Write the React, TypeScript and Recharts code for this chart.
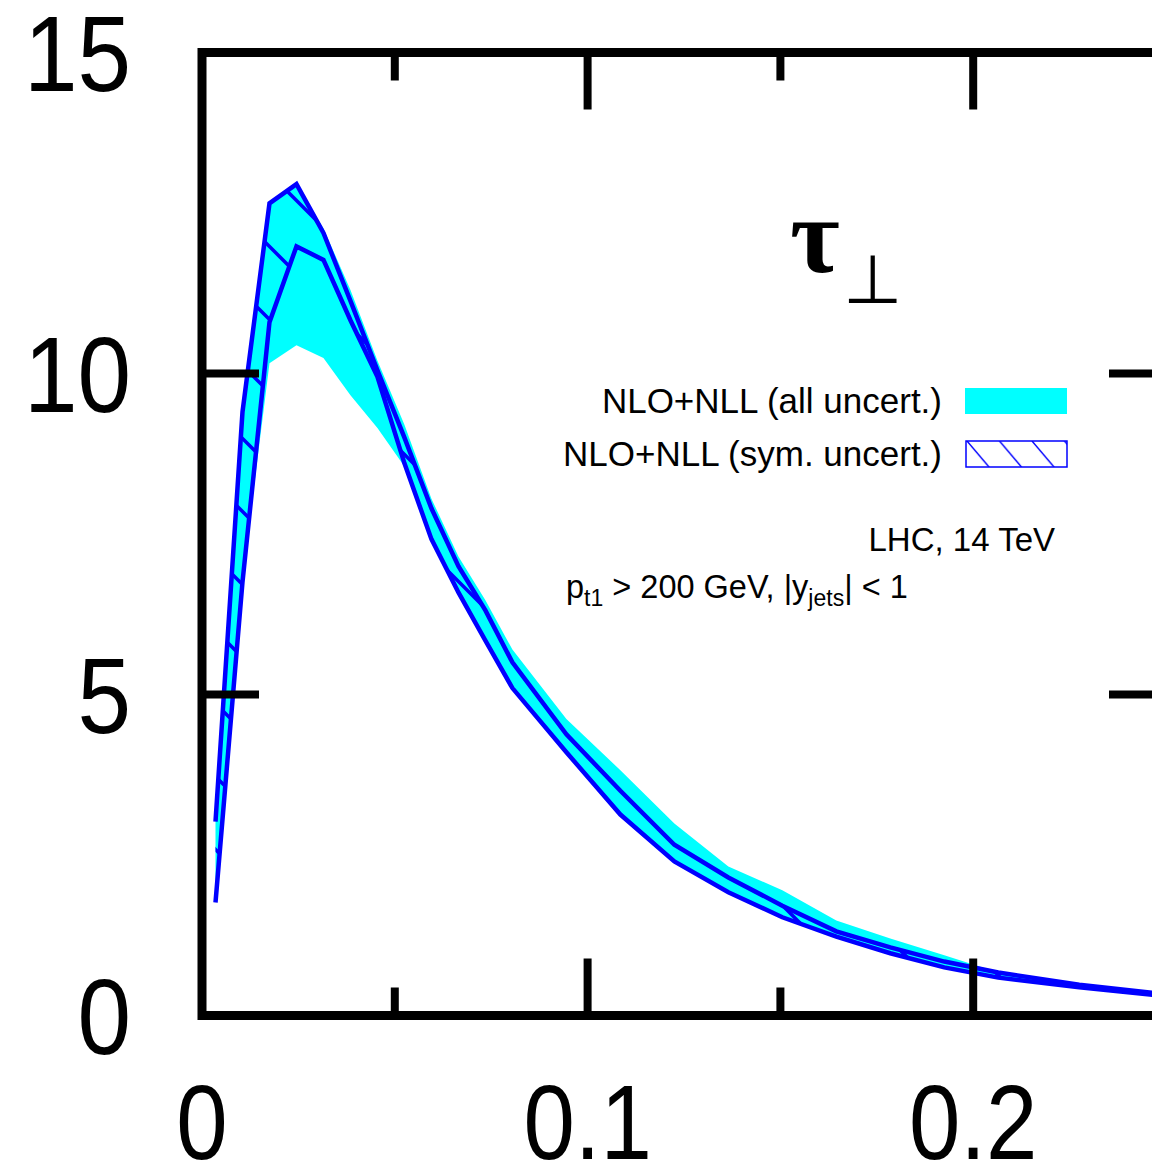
import React from "react";
import { ComposedChart, Area, Line, XAxis, YAxis, ReferenceArea } from "recharts";

// bin centres of tau_perp
const xs = [
  0.0035, 0.0105, 0.0175, 0.0245, 0.0315, 0.0385, 0.0455, 0.0525, 0.0595, 0.0665, 0.0735, 0.0805,
  0.0945, 0.1085, 0.1225, 0.1365, 0.1505, 0.1645, 0.1785, 0.1925, 0.2065, 0.2275, 0.2485,
];
// NLO+NLL (sym. uncert.) band edges
const symHi = [
  3.02, 9.4, 12.65, 12.95, 12.19, 11.13, 10.05, 9.0, 7.9, 7.0, 6.31, 5.5,
  4.38, 3.5, 2.66, 2.15, 1.71, 1.31, 1.06, 0.84, 0.67, 0.48, 0.34,
];
const symLo = [
  1.76, 6.75, 10.8, 11.98, 11.77, 10.83, 9.95, 8.6, 7.42, 6.59, 5.84, 5.1,
  4.1, 3.13, 2.4, 1.92, 1.53, 1.23, 0.97, 0.75, 0.59, 0.44, 0.31,
];
// NLO+NLL (all uncert.) band edges
const allHi = [
  3.0, 9.4, 12.65, 12.95, 12.26, 11.3, 10.2, 9.2, 8.05, 7.15, 6.47, 5.7,
  4.62, 3.82, 2.99, 2.32, 1.95, 1.48, 1.2, 0.94, 0.67, 0.48, 0.34,
];
const allLo = [
  1.8, 6.8, 10.16, 10.44, 10.24, 9.66, 9.15, 8.55, 7.42, 6.59, 5.84, 5.1,
  4.1, 3.13, 2.4, 1.92, 1.53, 1.23, 0.97, 0.75, 0.59, 0.44, 0.31,
];
const xTicks = [0, 0.05, 0.1, 0.15, 0.2, 0.25];
const yTicks = [0, 5, 10, 15];

const data = xs.map((x, i) => ({
  x,
  all: [allLo[i], allHi[i]],
  sym: [symLo[i], symHi[i]],
  hi: symHi[i],
  lo: symLo[i],
}));

const W = 1200;
const H = 1165;
const PLOT_LEFT = 202;
const PLOT_TOP = 52.5;
const PLOT_RIGHT = 1166;
const PLOT_BOTTOM = 1015.5;
const BLUE = "#0000ff";
const CYAN = "#00ffff";
const FONT = "'Liberation Sans', Arial, Helvetica, sans-serif";

const fmtX = (v: number) => (v === 0 ? "0" : String(Math.round(v * 10) / 10));

function XTick(props: any) {
  const { x, payload } = props;
  const v = payload.value as number;
  const major = Math.abs(v * 10 - Math.round(v * 10)) < 1e-6;
  const len = major ? 57 : 28;
  return (
    <g>
      <line x1={x} x2={x} y1={PLOT_BOTTOM} y2={PLOT_BOTTOM - len} stroke="#000" strokeWidth={8} />
      <line x1={x} x2={x} y1={PLOT_TOP} y2={PLOT_TOP + len} stroke="#000" strokeWidth={8} />
      {major && (
        <text
          transform={`translate(${x},${PLOT_BOTTOM + 143}) scale(0.88,1)`}
          textAnchor="middle"
          fontSize={105}
          fontFamily={FONT}
          fill="#000"
        >
          {fmtX(v)}
        </text>
      )}
    </g>
  );
}

function YTick(props: any) {
  const { y, payload } = props;
  return (
    <g>
      <line x1={PLOT_LEFT} x2={PLOT_LEFT + 57} y1={y} y2={y} stroke="#000" strokeWidth={8} />
      <line x1={PLOT_RIGHT - 57} x2={PLOT_RIGHT} y1={y} y2={y} stroke="#000" strokeWidth={8} />
      <text
        transform={`translate(131,${y + 38}) scale(0.9,1)`}
        textAnchor="end"
        fontSize={107}
        fontFamily={FONT}
        fill="#000"
      >
        {payload.value}
      </text>
    </g>
  );
}

function Overlay() {
  return (
    <svg
      width={1152}
      height={H}
      style={{ position: "absolute", left: 0, top: 0, pointerEvents: "none" }}
    >
      <defs>
        <pattern id="hatch" patternUnits="userSpaceOnUse" width={73} height={73} x={0} y={0}>
          <path d="M-10,40 L33,83 M13,-10 L83,60" stroke={BLUE} strokeWidth={3.5} fill="none" />
        </pattern>
        <pattern id="legHatch" patternUnits="userSpaceOnUse" width={32.5} height={26} x={966} y={441}>
          <path d="M1,0 L23,26" stroke={BLUE} strokeWidth={1.4} fill="none" />
        </pattern>
      </defs>
      <text x={790} y={272} fontSize={108} fontWeight="bold" fontFamily="'Liberation Serif', 'DejaVu Serif', serif">
        τ
      </text>
      <text x={843} y={303} fontSize={68} fontFamily="'DejaVu Sans', sans-serif">
        ⊥
      </text>

      <text x={942} y={413} fontSize={35} fontFamily={FONT} textAnchor="end">
        NLO+NLL (all uncert.)
      </text>
      <rect x={965} y={388} width={102} height={26} fill={CYAN} />
      <text x={942} y={466} fontSize={35} fontFamily={FONT} textAnchor="end">
        NLO+NLL (sym. uncert.)
      </text>
      <rect x={966} y={441} width={101} height={26} fill="url(#legHatch)" stroke={BLUE} strokeWidth={1.5} />

      <text x={1055} y={551} fontSize={33} fontFamily={FONT} textAnchor="end">
        LHC, 14 TeV
      </text>
      <text x={566} y={598} fontSize={32.5} fontFamily={FONT}>
        <tspan>p</tspan>
        <tspan dy={8} fontSize={23}>t1</tspan>
        <tspan dy={-8}> &gt; 200 GeV, |y</tspan>
        <tspan dy={8} fontSize={23}>jets</tspan>
        <tspan dy={-8}>| &lt; 1</tspan>
      </text>
    </svg>
  );
}

export default function App() {
  return (
    <div
      style={{
        position: "absolute",
        left: 0,
        top: 0,
        width: 1152,
        height: H,
        overflow: "hidden",
        background: "#fff",
      }}
    >
      <ComposedChart
        width={W}
        height={H}
        data={data}
        margin={{ top: PLOT_TOP, right: W - PLOT_RIGHT, bottom: 0, left: 0 }}
      >
        <XAxis
          dataKey="x"
          type="number"
          domain={[0, 0.25]}
          ticks={xTicks}
          interval={0}
          tick={(p: any) => <XTick {...p} />}
          tickLine={false}
          axisLine={false}
          height={H - PLOT_BOTTOM}
        />
        <YAxis
          type="number"
          domain={[0, 15]}
          ticks={yTicks}
          interval={0}
          tick={(p: any) => <YTick {...p} />}
          tickLine={false}
          axisLine={false}
          width={PLOT_LEFT}
        />
        <Area
          dataKey="all"
          type="linear"
          fill={CYAN}
          fillOpacity={1}
          stroke="none"
          isAnimationActive={false}
        />
        <Area
          dataKey="sym"
          type="linear"
          fill="url(#hatch)"
          fillOpacity={1}
          stroke="none"
          isAnimationActive={false}
        />
        <Line dataKey="hi" type="linear" stroke={BLUE} strokeWidth={4.5} dot={false} isAnimationActive={false} />
        <Line dataKey="lo" type="linear" stroke={BLUE} strokeWidth={4.5} dot={false} isAnimationActive={false} />
        <ReferenceArea x1={0} x2={0.25} y1={0} y2={15} fill="none" fillOpacity={0} stroke="#000" strokeWidth={9} />
      </ComposedChart>
      <Overlay />
    </div>
  );
}
